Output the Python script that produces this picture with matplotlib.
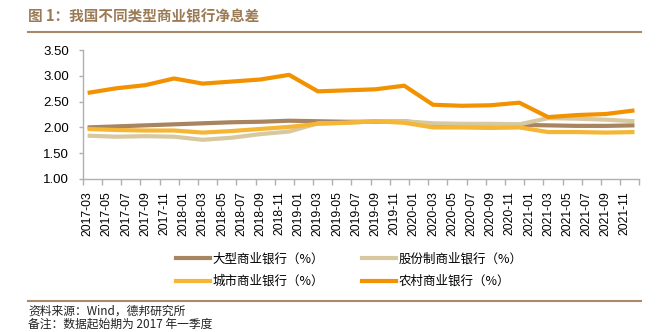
import matplotlib
matplotlib.use("Agg")
import matplotlib.pyplot as plt
from matplotlib.lines import Line2D
import numpy as np

plt.rcParams['font.family'] = ['Noto Sans CJK SC', 'DejaVu Sans']

# monthly category axis, data is quarterly (2017-03 .. 2021-12)
months = [f"{y}-{m:02d}" for y in range(2017, 2022) for m in range(1, 13)][2:]
quarters = [f"{y}-{m:02d}" for y in range(2017, 2022) for m in (3, 6, 9, 12)]

big = [2.00, 2.02, 2.04, 2.06, 2.08, 2.10, 2.11, 2.13, 2.12, 2.11, 2.11, 2.12,
       2.06, 2.05, 2.05, 2.05, 2.04, 2.03, 2.03, 2.04]
joint = [1.84, 1.82, 1.83, 1.82, 1.76, 1.80, 1.87, 1.92, 2.08, 2.09, 2.12, 2.12,
         2.08, 2.07, 2.07, 2.06, 2.18, 2.17, 2.15, 2.12]
city = [1.97, 1.95, 1.94, 1.94, 1.90, 1.93, 1.97, 2.01, 2.07, 2.09, 2.12, 2.09,
        2.00, 2.00, 1.99, 2.00, 1.91, 1.91, 1.90, 1.91]
rural = [2.67, 2.76, 2.82, 2.95, 2.85, 2.89, 2.93, 3.02, 2.70, 2.72, 2.74, 2.81,
         2.44, 2.42, 2.43, 2.48, 2.20, 2.24, 2.26, 2.33]

names = ["大型商业银行（%）", "股份制商业银行（%）", "城市商业银行（%）", "农村商业银行（%）"]
colors = ["#a88460", "#d8c8a0", "#f5b535", "#f39200"]

fig = plt.figure(figsize=(6.68, 3.32), dpi=100)
ax = fig.add_axes([0.124, 0.461, 0.833, 0.388])

xq = [months.index(q) for q in quarters]
for vals, c, n in zip([big, joint, city, rural], colors, names):
    ax.plot(xq, vals, color=c, lw=3, label=n, solid_capstyle='butt')

ax.set_xlim(-0.5, len(months) - 0.5)
ax.set_ylim(1.0, 3.5)
ax.set_yticks(np.arange(1.0, 3.51, 0.5))
ax.set_yticklabels([f"{v:.2f}" for v in np.arange(1.0, 3.51, 0.5)],
                   family=['Liberation Sans', 'DejaVu Sans'], fontsize=9.5)
lab_pos = list(range(0, len(months), 2))
ax.set_xticks(lab_pos)
ax.set_xticklabels([months[i] for i in lab_pos], rotation=90,
                   family=['Liberation Sans', 'DejaVu Sans'], fontsize=8.7)
ax.set_xticks([p - 0.5 for p in lab_pos] + [len(months) - 0.5], minor=True)
ax.tick_params(axis='x', which='major', length=0, pad=9)
ax.tick_params(axis='x', which='minor', length=4, color="#b0b0b0", width=1)
ax.tick_params(axis='y', length=3, color="#b0b0b0", width=1, pad=7)
for s in ['top', 'right']:
    ax.spines[s].set_visible(False)
for s in ['left', 'bottom']:
    ax.spines[s].set_color("#b0b0b0")
    ax.spines[s].set_linewidth(1)

# legend fills column-first, so order so that rows read 大型/股份制, 城市/农村
order = [0, 2, 1, 3]
handles = [Line2D([], [], color=colors[i], lw=3) for i in order]
fig.legend(handles, [names[i] for i in order], ncol=2, frameon=False, loc='center',
           bbox_to_anchor=(0.523, 0.186), fontsize=9, handlelength=2.7,
           handletextpad=0.25, columnspacing=3.0, labelspacing=0.75)

fig.text(0.042, 0.952, "图 1：我国不同类型商业银行净息差", fontsize=10.5,
         fontweight='bold', color="#9b7b56", va='center')
fig.add_artist(Line2D([0.042, 0.96], [0.903, 0.903], color="#a88a6a", lw=1.5))
fig.add_artist(Line2D([0.042, 0.96], [0.092, 0.092], color="#a88a6a", lw=1.5))
fig.text(0.042, 0.062, "资料来源：Wind，德邦研究所", fontsize=8.5, va='center', color="#222222")
fig.text(0.042, 0.024, "备注：数据起始期为 2017 年一季度", fontsize=8.5, va='center', color="#222222")

fig.savefig("out.png", dpi=100)
